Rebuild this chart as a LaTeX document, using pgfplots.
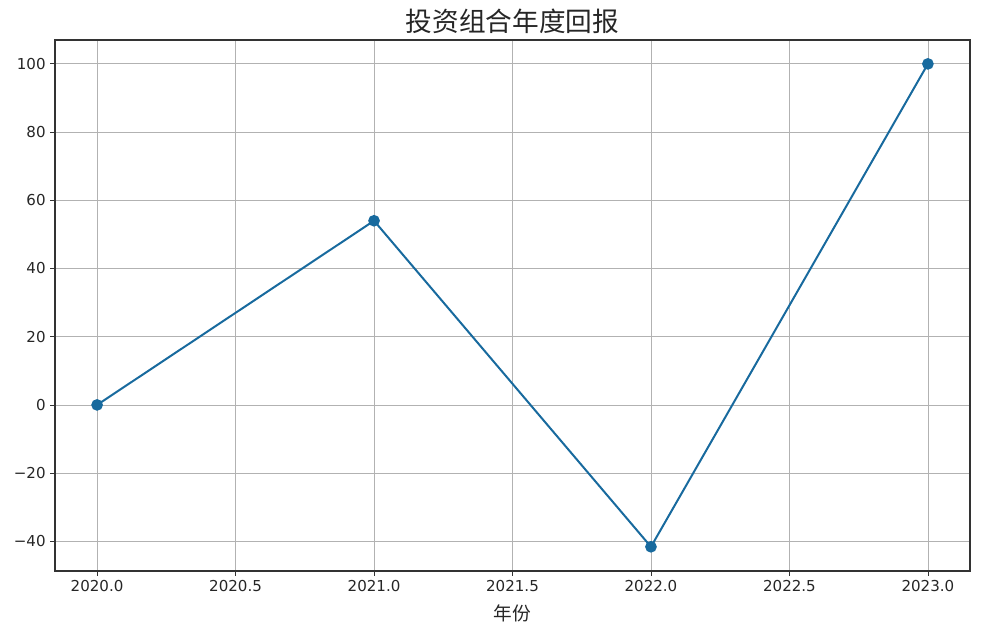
\documentclass[border=0pt]{standalone}
\usepackage{pgfplots}
\pgfplotsset{compat=1.18}
\usepackage{fontspec}
\setmainfont{DejaVu Sans}
\newfontfamily\cjk{Noto Sans CJK SC}
\definecolor{linec}{RGB}{24,106,158}
\begin{document}
\begin{tikzpicture}[x=0.75pt,y=0.75pt]
\begin{axis}[
  at={(0,0)}, anchor=south west,
  scale only axis,
  width=686.25pt, height=398.25pt,
  xmin=2019.848, xmax=2023.152,
  ymin=-48.7, ymax=107.0,
  xtick={2020,2020.5,2021,2021.5,2022,2022.5,2023},
  xticklabels={2020.0,2020.5,2021.0,2021.5,2022.0,2022.5,2023.0},
  ytick={-40,-20,0,20,40,60,80,100},
  yticklabels={−40,−20,0,20,40,60,80,100},
  tick label style={font=\fontsize{11.3}{13}\selectfont, color=black!85},
  grid=major,
  major grid style={color=black!30, line width=0.6pt},
  axis line style={line width=0.8pt, color=black!80},
  tick style={color=black!80, line width=0.6pt},
  tick align=outside,
  xtick pos=bottom, ytick pos=left,
  major tick length=3.5pt,
  xlabel={\cjk 年份},
  xlabel style={font=\fontsize{14}{16}\selectfont, yshift=-3pt, color=black!85},
  title={\cjk 投资组合年度回报},
  title style={font=\fontsize{20}{23}\selectfont, yshift=-4.5pt, color=black!85},
]
\addplot[color=linec, line width=1.5pt, mark=*, mark size=3.6pt, mark options={fill=linec, draw=linec}]
  coordinates {(2020,0) (2021,54) (2022,-41.6) (2023,100)};
\end{axis}
\path[use as bounding box] (-55,-66) rectangle (935,571);
\end{tikzpicture}
\end{document}
